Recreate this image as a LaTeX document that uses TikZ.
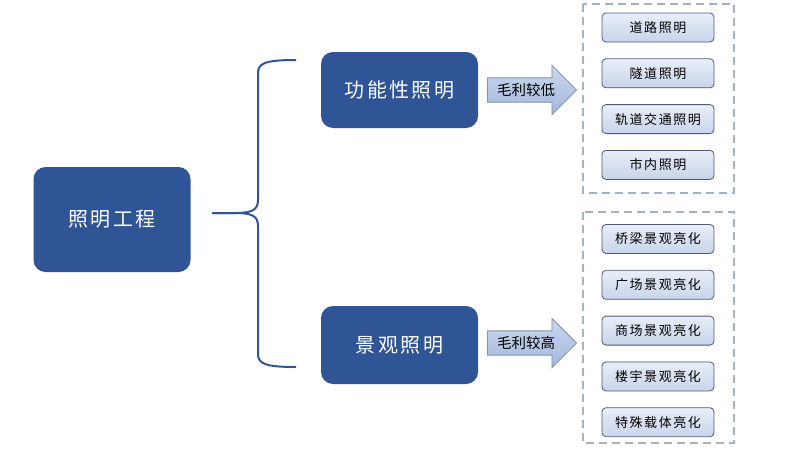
\documentclass[tikz,border=0pt]{standalone}
\usepackage{fontspec}
\newfontfamily\cjk{Noto Sans CJK SC}
\newfontfamily\cjkwide[LetterSpace=12]{Noto Sans CJK SC}
\usepackage{xcolor}
\usetikzlibrary{positioning,shapes.arrows}

\definecolor{darkblue}{HTML}{2F5597}
\definecolor{boxtop}{HTML}{E9EEF8}
\definecolor{boxbot}{HTML}{C8D4EA}
\definecolor{boxline}{HTML}{4A5A78}
\definecolor{arrtop}{HTML}{CAD7EE}
\definecolor{arrbot}{HTML}{A3B8DC}
\definecolor{arrline}{HTML}{7F91B0}
\definecolor{dashline}{HTML}{A7B1C4}

\begin{document}
\begin{tikzpicture}[x=1pt,y=-1pt,
		bigbox/.style={rounded corners=12pt,fill=darkblue,text=white,
			font=\cjkwide\fontsize{20}{24}\selectfont,minimum width=157pt},
		itembox/.style={rounded corners=4pt,draw=boxline,line width=0.8pt,
			top color=boxtop,bottom color=boxbot,minimum width=112pt,minimum height=29pt,
			inner sep=0pt,font=\cjkwide\fontsize{13}{15}\selectfont},
		gainarrow/.style={single arrow,draw=arrline,line width=0.8pt,
			top color=arrtop,bottom color=arrbot,minimum height=89pt,
			single arrow head extend=12.5pt,inner xsep=2pt,inner ysep=5pt,
			font=\cjk\fontsize{14.5}{16}\selectfont},
		brace/.style={darkblue,line width=2pt},
		dashbox/.style={dashline,line width=1.8pt,dash pattern=on 8pt off 5pt}
		]
		\useasboundingbox (0,0) rectangle (800,450);
		
		\node[bigbox,minimum height=105pt] (main) at (112,219.5) {照明工程};
		\node[bigbox,minimum height=76pt] (func) at (399.5,90) {功能性照明};
		\node[bigbox,minimum height=78pt] (land) at (399.5,345) {景观照明};
		
		% brace
		\coordinate (bracetip) at (212,213);
		\draw[brace] (bracetip) -- (235,213) .. controls (252,213) and (258,210) .. (258,200)
			-- (258,73) .. controls (258,63) and (266,60) .. (296,60);
		\draw[brace] (bracetip) -- (235,213) .. controls (252,213) and (258,216) .. (258,226)
			-- (258,354) .. controls (258,364) and (266,367) .. (296,367);
		
		\node[gainarrow] (lowarr) at (526,90) {毛利较低};
		\node[gainarrow] (higharr) at (526,343) {毛利较高};
		
		% functional lighting
		\draw[dashbox] (583,4) rectangle (734,193);
		\node[itembox] (road) at (658,27.5) {道路照明};
		\node[itembox, below=16pt of road] (tunnel) {隧道照明};
		\node[itembox, below=16pt of tunnel] (rail) {轨道交通照明};
		\node[itembox, below=16pt of rail] (city) {市内照明};
		
		% landscape lighting
		\draw[dashbox] (583,212) rectangle (734,443);
		\node[itembox] (bridge) at (658,239) {桥梁景观亮化};
		\node[itembox, below=16pt of bridge] (square) {广场景观亮化};
		\node[itembox, below=16pt of square] (mall) {商场景观亮化};
		\node[itembox, below=16pt of mall] (tower) {楼宇景观亮化};
		\node[itembox, below=16pt of tower] (special) {特殊载体亮化};
	\end{tikzpicture}
\end{document}
